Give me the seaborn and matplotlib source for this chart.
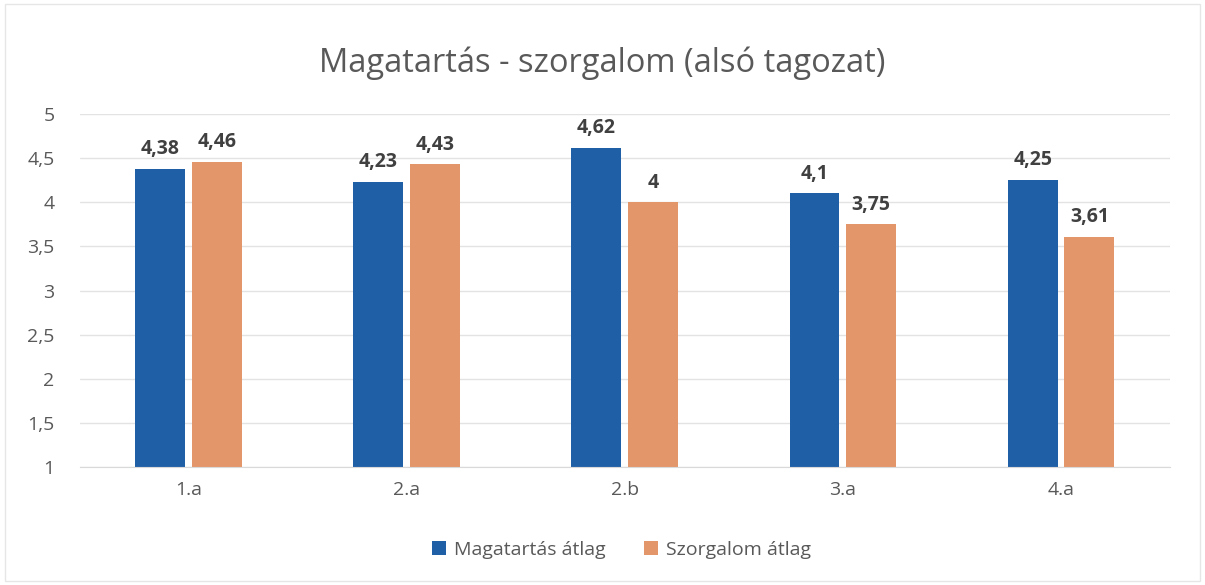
import pandas as pd
import numpy as np
import matplotlib
matplotlib.use("Agg")
import matplotlib.pyplot as plt
import seaborn as sns

# Adatok
osztalyok = ["1.a", "2.a", "2.b", "3.a", "4.a"]
magatartas = [4.38, 4.23, 4.62, 4.1, 4.25]
szorgalom = [4.46, 4.43, 4.0, 3.75, 3.61]
sorozatok = ["Magatartás átlag", "Szorgalom átlag"]

df = pd.DataFrame({
    "Osztály": osztalyok * 2,
    "Átlag": magatartas + szorgalom,
    "Sorozat": [sorozatok[0]] * 5 + [sorozatok[1]] * 5,
})

sns.set_style("white")
plt.rcParams["font.family"] = ["Open Sans", "DejaVu Sans"]

szinek = {sorozatok[0]: "#1f5fa6", sorozatok[1]: "#e3966a"}

fig = plt.figure(figsize=(12.05, 5.85), dpi=100)
ax = fig.add_axes([0.066, 0.2017, 0.905, 0.6034])

sns.barplot(data=df, x="Osztály", y="Átlag", hue="Sorozat", palette=szinek,
            width=0.52, gap=0.12, ax=ax, legend=True, saturation=1, linewidth=0)

ax.set_ylim(1, 5)
ax.set_yticks(np.arange(1, 5.01, 0.5))
ax.set_yticklabels([f"{v:g}".replace(".", ",") for v in np.arange(1, 5.01, 0.5)])
ax.yaxis.grid(True, color="#e3e3e3", linewidth=1)
ax.set_axisbelow(True)
for s in ["top", "right", "left"]:
    ax.spines[s].set_visible(False)
ax.spines["bottom"].set_color("#d9d9d9")
ax.tick_params(axis="both", length=0, labelsize=14, colors="#595959")
ax.tick_params(axis="y", pad=18)
ax.tick_params(axis="x", pad=10)
ax.set_xlabel("")
ax.set_ylabel("")

# Értékcímkék
for cont in ax.containers:
    ax.bar_label(cont, labels=[f"{b.get_height():g}".replace(".", ",") for b in cont],
                 padding=7, fontsize=14, fontweight="bold", color="#404040")

ax.legend(loc="upper center", bbox_to_anchor=(0.497, -0.16), ncol=2, frameon=False,
          fontsize=14, handlelength=0.7, handleheight=0.7, columnspacing=2.0,
          handletextpad=0.4, labelcolor="#595959")

fig.text(0.5, 0.892, "Magatartás - szorgalom (alsó tagozat)", ha="center", va="center",
         fontsize=23.5, color="#595959")

fig.patches.append(plt.Rectangle((0.004, 0.006), 0.992, 0.988, transform=fig.transFigure,
                                 fill=False, edgecolor="#e6e6e6", linewidth=1))

plt.savefig("out.png", dpi=100)
